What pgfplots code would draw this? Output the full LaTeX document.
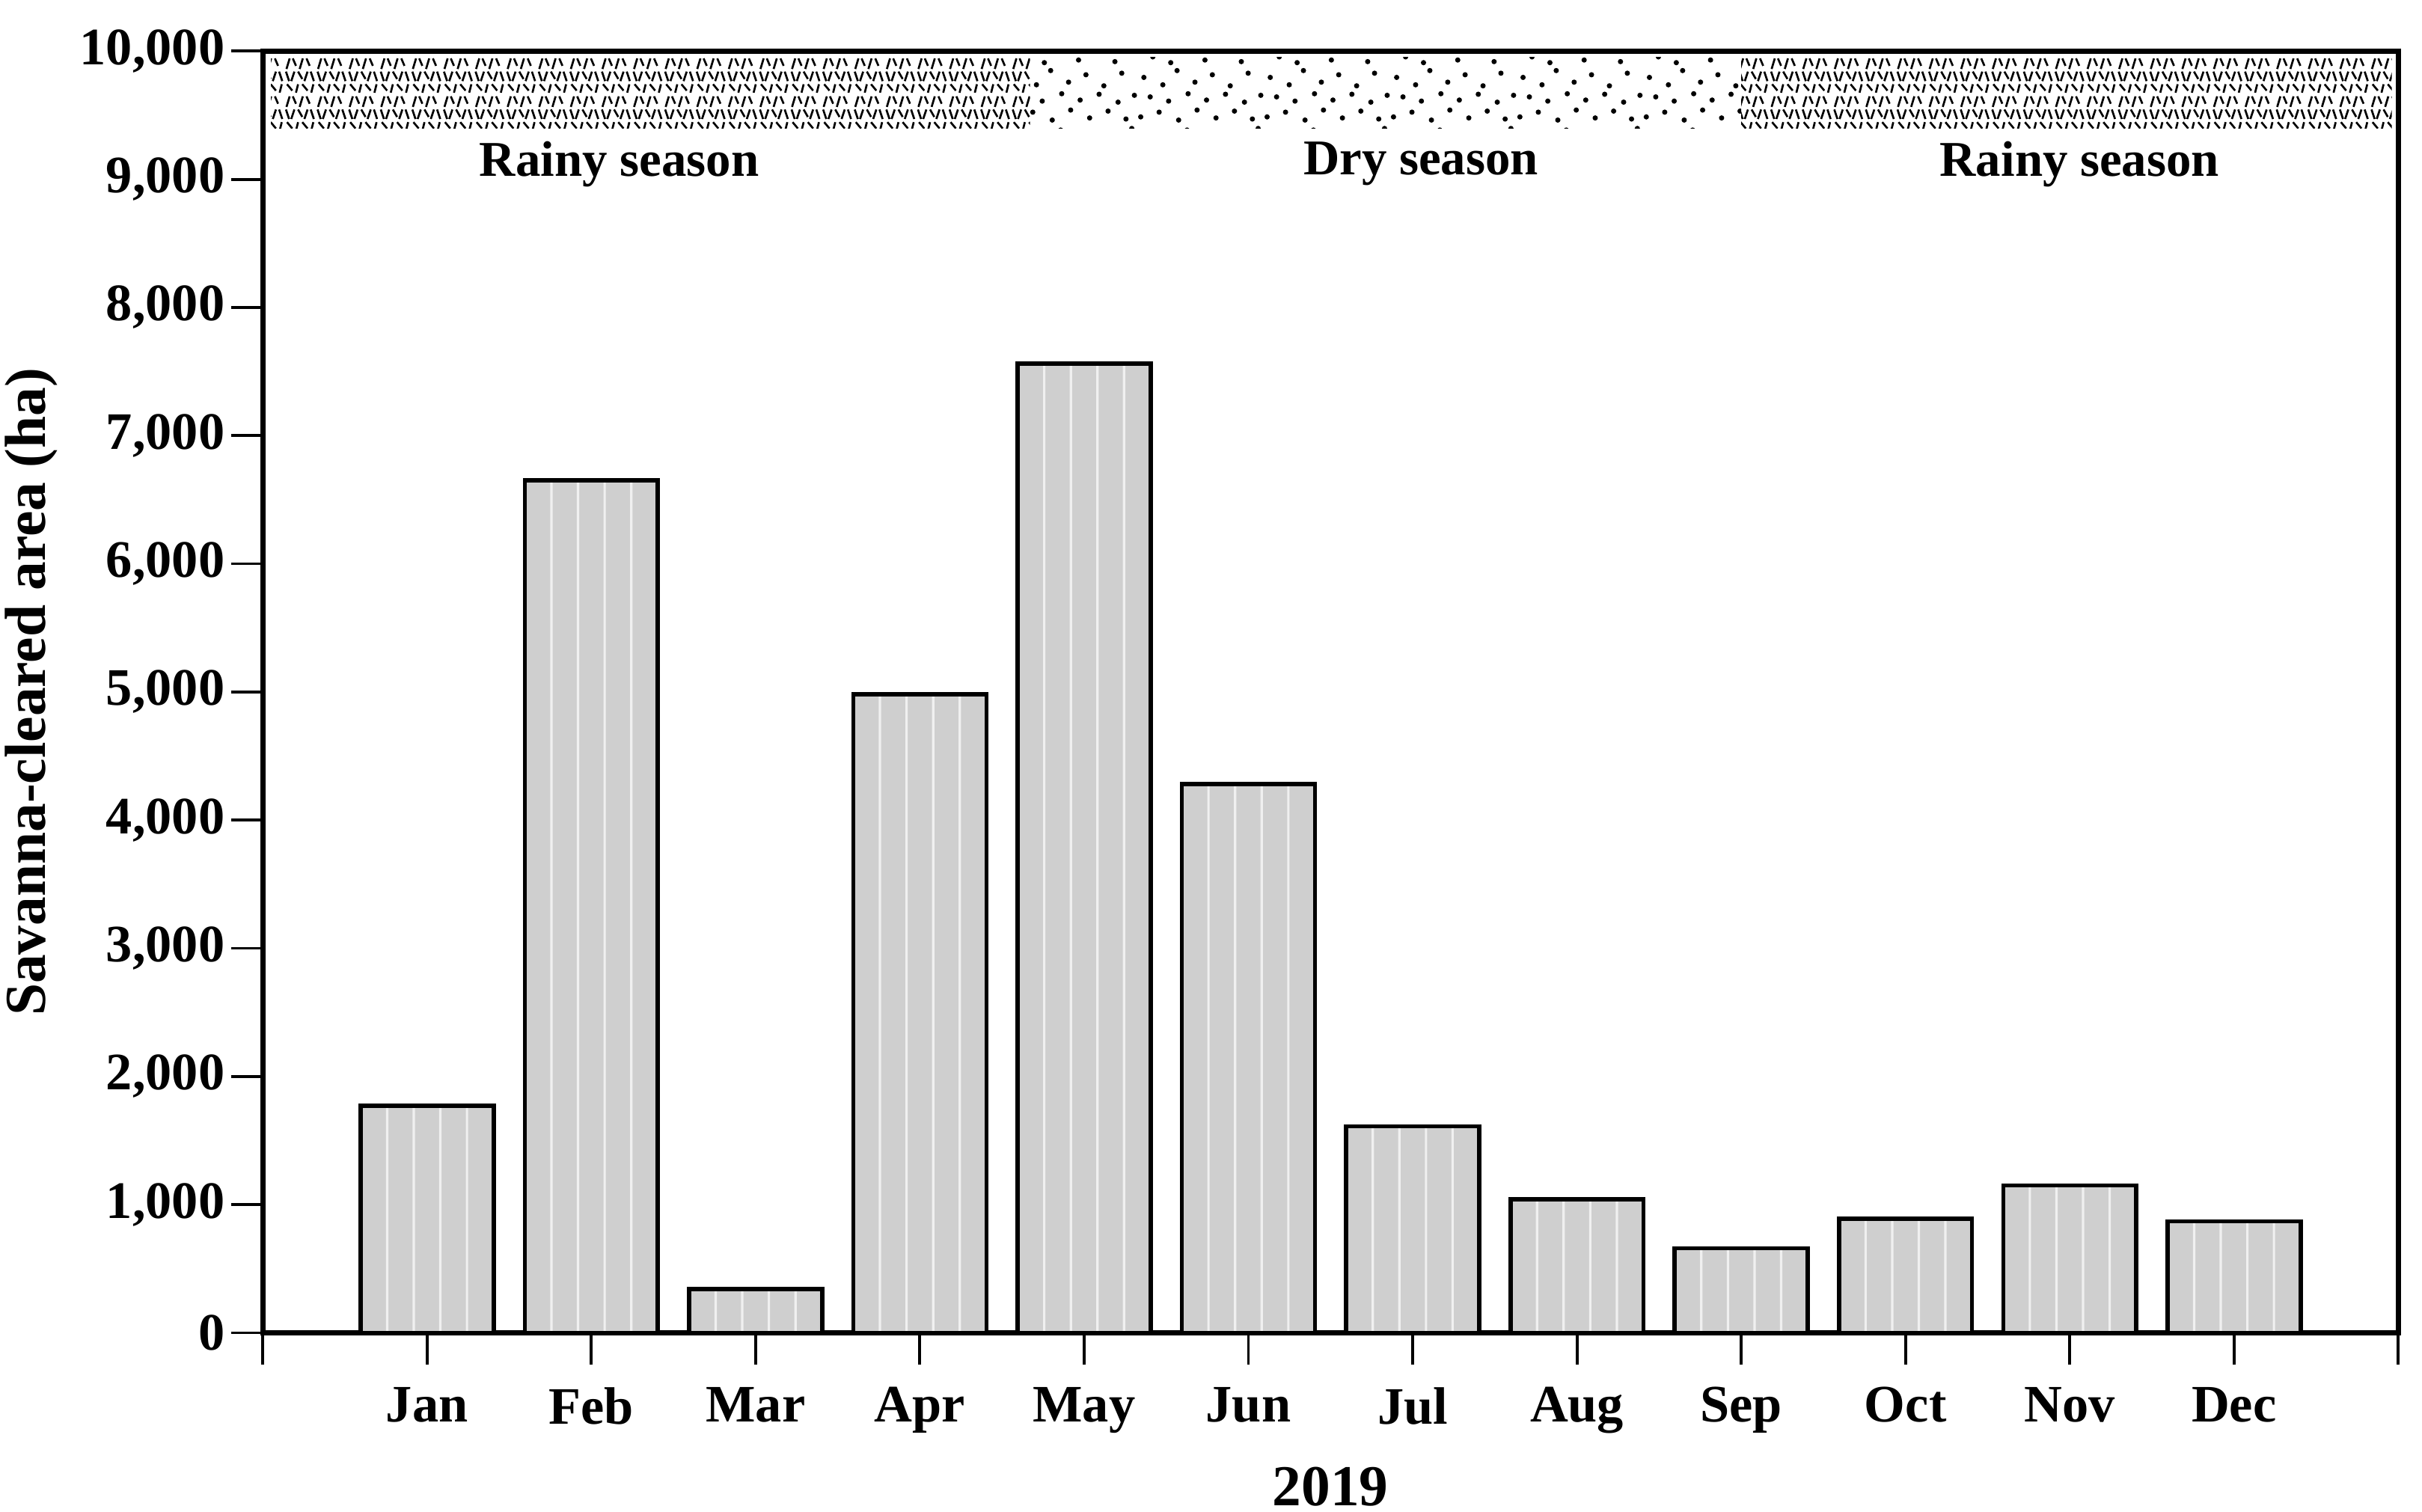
\documentclass[border=0pt]{standalone}
\usepackage{fontspec}
\setmainfont{Liberation Serif}
\usepackage{pgfplots}
\usepackage{pgfplotstable}
\pgfplotsset{compat=1.18}
\usetikzlibrary{patterns}

\definecolor{barfill}{RGB}{207,207,207}
\definecolor{stripe}{RGB}{240,240,240}

\pgfdeclarepatternformonly{rainy}{\pgfqpoint{-0.5pt}{-0.5pt}}{\pgfqpoint{6.5pt}{7.7pt}}{\pgfqpoint{6pt}{7.2pt}}{%
  \pgfsetlinewidth{0.38pt}%
  \pgfpathmoveto{\pgfqpoint{0.3pt}{7.0pt}}\pgfpathlineto{\pgfqpoint{0.9pt}{5.2pt}}%
  \pgfpathmoveto{\pgfqpoint{1.3pt}{5.2pt}}\pgfpathlineto{\pgfqpoint{1.9pt}{7.0pt}}%
  \pgfpathmoveto{\pgfqpoint{2.6pt}{7.0pt}}\pgfpathlineto{\pgfqpoint{3.4pt}{5.6pt}}%
  \pgfpathmoveto{\pgfqpoint{3.8pt}{5.2pt}}\pgfpathlineto{\pgfqpoint{4.4pt}{7.0pt}}%
  \pgfpathmoveto{\pgfqpoint{5.0pt}{7.0pt}}\pgfpathlineto{\pgfqpoint{5.6pt}{5.2pt}}%
  \pgfpathmoveto{\pgfqpoint{0.5pt}{4.6pt}}\pgfpathlineto{\pgfqpoint{1.5pt}{3.4pt}}%
  \pgfpathmoveto{\pgfqpoint{2.2pt}{3.0pt}}\pgfpathlineto{\pgfqpoint{2.6pt}{4.6pt}}%
  \pgfpathmoveto{\pgfqpoint{3.4pt}{4.6pt}}\pgfpathlineto{\pgfqpoint{4.4pt}{3.4pt}}%
  \pgfpathmoveto{\pgfqpoint{5.1pt}{3.0pt}}\pgfpathlineto{\pgfqpoint{5.5pt}{4.6pt}}%
  \pgfpathmoveto{\pgfqpoint{0.4pt}{0.3pt}}\pgfpathlineto{\pgfqpoint{1.0pt}{2.3pt}}%
  \pgfpathmoveto{\pgfqpoint{1.6pt}{2.3pt}}\pgfpathlineto{\pgfqpoint{2.2pt}{0.9pt}}%
  \pgfpathmoveto{\pgfqpoint{2.9pt}{0.3pt}}\pgfpathlineto{\pgfqpoint{3.5pt}{2.3pt}}%
  \pgfpathmoveto{\pgfqpoint{4.2pt}{2.3pt}}\pgfpathlineto{\pgfqpoint{4.8pt}{0.9pt}}%
  \pgfusepath{stroke}%
}

\pgfdeclarepatternformonly{drydots}{\pgfqpoint{-1pt}{-1pt}}{\pgfqpoint{25pt}{16pt}}{\pgfqpoint{24pt}{15pt}}{%
  \pgfpathcircle{\pgfqpoint{1.2pt}{2.3pt}}{0.5pt}%
  \pgfpathcircle{\pgfqpoint{4.8pt}{0.9pt}}{0.5pt}%
  \pgfpathcircle{\pgfqpoint{7.5pt}{3.6pt}}{0.5pt}%
  \pgfpathcircle{\pgfqpoint{10.9pt}{1.4pt}}{0.5pt}%
  \pgfpathcircle{\pgfqpoint{14.2pt}{2.8pt}}{0.5pt}%
  \pgfpathcircle{\pgfqpoint{17.6pt}{0.7pt}}{0.5pt}%
  \pgfpathcircle{\pgfqpoint{21.0pt}{3.1pt}}{0.5pt}%
  \pgfpathcircle{\pgfqpoint{2.9pt}{6.2pt}}{0.5pt}%
  \pgfpathcircle{\pgfqpoint{6.3pt}{5.1pt}}{0.5pt}%
  \pgfpathcircle{\pgfqpoint{9.4pt}{7.3pt}}{0.5pt}%
  \pgfpathcircle{\pgfqpoint{12.8pt}{5.6pt}}{0.5pt}%
  \pgfpathcircle{\pgfqpoint{16.1pt}{6.9pt}}{0.5pt}%
  \pgfpathcircle{\pgfqpoint{19.7pt}{5.3pt}}{0.5pt}%
  \pgfpathcircle{\pgfqpoint{22.9pt}{7.6pt}}{0.5pt}%
  \pgfpathcircle{\pgfqpoint{0.6pt}{9.8pt}}{0.5pt}%
  \pgfpathcircle{\pgfqpoint{4.1pt}{10.7pt}}{0.5pt}%
  \pgfpathcircle{\pgfqpoint{7.8pt}{9.2pt}}{0.5pt}%
  \pgfpathcircle{\pgfqpoint{11.3pt}{11.1pt}}{0.5pt}%
  \pgfpathcircle{\pgfqpoint{14.9pt}{9.6pt}}{0.5pt}%
  \pgfpathcircle{\pgfqpoint{18.4pt}{10.9pt}}{0.5pt}%
  \pgfpathcircle{\pgfqpoint{21.8pt}{9.4pt}}{0.5pt}%
  \pgfpathcircle{\pgfqpoint{2.4pt}{13.6pt}}{0.5pt}%
  \pgfpathcircle{\pgfqpoint{5.9pt}{12.8pt}}{0.5pt}%
  \pgfpathcircle{\pgfqpoint{9.6pt}{14.2pt}}{0.5pt}%
  \pgfpathcircle{\pgfqpoint{13.1pt}{13.0pt}}{0.5pt}%
  \pgfpathcircle{\pgfqpoint{16.7pt}{14.1pt}}{0.5pt}%
  \pgfpathcircle{\pgfqpoint{20.3pt}{12.6pt}}{0.5pt}%
  \pgfpathcircle{\pgfqpoint{23.4pt}{13.9pt}}{0.5pt}%
  \pgfusepath{fill}%
}

\pgfplotstableread{
x y
1 1770
2 6650
3 340
4 4980
5 7560
6 4280
7 1610
8 1040
9 660
10 890
11 1150
12 870
}\monthly

\begin{document}
\begin{tikzpicture}
\begin{axis}[
  name=ax,
  scale only axis,
  width=405.5pt, height=243.4pt,
  xmin=0, xmax=13, ymin=0, ymax=10000,
  xtick={0,1,...,13},
  xticklabels={,Jan,Feb,Mar,Apr,May,Jun,Jul,Aug,Sep,Oct,Nov,Dec,},
  ytick={0,1000,...,10000},
  tick align=outside,
  major tick length=6pt,
  xtick pos=bottom, ytick pos=left,
  tick style={black, line width=0.55pt},
  axis line style={line width=1pt},
  scaled y ticks=false,
  /pgf/number format/1000 sep={,},
  /pgf/number format/assume math mode=true,
  ticklabel style={font=\bfseries\fontsize{10}{12}\selectfont},
  yticklabel style={xshift=2.3pt},
  xticklabel style={yshift=-0.8pt},
  xlabel={2019},
  ylabel={Savanna-cleared area (ha)},
  label style={font=\bfseries\fontsize{11}{13}\selectfont},
  xlabel style={yshift=0.5pt},
  ylabel style={at={(axis description cs:-0.1085,0.5)}, anchor=center},
]
% season bands
\addplot[draw=none, pattern=rainy] coordinates {(0.05,9400) (4.67,9400) (4.67,9950) (0.05,9950)};
\addplot[draw=none, pattern=drydots] coordinates {(4.67,9400) (9.0,9400) (9.0,9950) (4.67,9950)};
\addplot[draw=none, pattern=rainy] coordinates {(9.0,9400) (12.96,9400) (12.96,9950) (9.0,9950)};
% bars
\addplot[ybar, bar width=0.81, bar shift=0, fill=barfill, draw=none] table[x=x,y=y]{\monthly};
\addplot[ybar, bar width=0.45pt, bar shift=-0.243, fill=stripe, draw=none] table[x=x,y=y]{\monthly};
\addplot[ybar, bar width=0.45pt, bar shift=-0.081, fill=stripe, draw=none] table[x=x,y=y]{\monthly};
\addplot[ybar, bar width=0.45pt, bar shift=0.081, fill=stripe, draw=none] table[x=x,y=y]{\monthly};
\addplot[ybar, bar width=0.45pt, bar shift=0.243, fill=stripe, draw=none] table[x=x,y=y]{\monthly};
\addplot[ybar, bar width=0.81, bar shift=0, fill=none, draw=black, line width=0.8pt] table[x=x,y=y]{\monthly};
% season labels
\node[font=\bfseries\fontsize{9.5}{11}\selectfont] at (axis cs:2.17,9120) {Rainy season};
\node[font=\bfseries\fontsize{9.5}{11}\selectfont] at (axis cs:7.05,9120) {Dry season};
\node[font=\bfseries\fontsize{9.5}{11}\selectfont] at (axis cs:11.06,9120) {Rainy season};
\end{axis}
\pgfresetboundingbox
\path[use as bounding box] ([shift={(-49.9pt,-33.9pt)}]ax.south west) rectangle ([shift={(4.5pt,9.7pt)}]ax.north east);
\end{tikzpicture}
\end{document}
